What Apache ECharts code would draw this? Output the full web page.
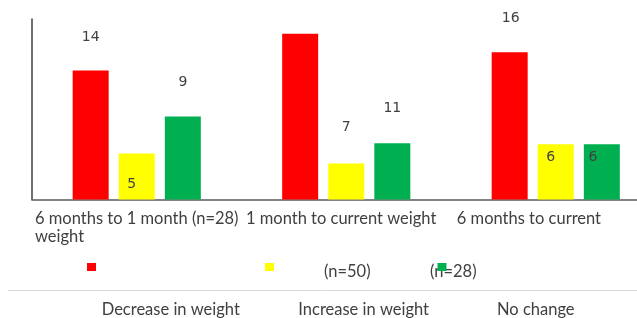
<!DOCTYPE html>
<html>
<head>
<meta charset="utf-8">
<script src="https://cdn.jsdelivr.net/npm/echarts@6/dist/echarts.min.js"></script>
<style>
html, body { margin: 0; padding: 0; background: #fff; }
#main { width: 637px; height: 318px; }
</style>
</head>
<body>
<div id="main"></div>
<script>
// categories (the first label wraps onto a second line in the source picture)
var categories = ['6 months to 1 month (n=28)\nweight', '1 month to current weight', '6 months to current'];
var seriesNames = ['Decrease in weight', 'Increase in weight', 'No change'];

// bar heights
var decreaseValues = [14, 18, 16];
var increaseValues = [5, 3.9, 6];
var noChangeValues = [9, 6.1, 6];

// printed value labels
var decreaseLabels = ['14', '', '16'];
var increaseLabels = ['5', '7', '6'];
var noChangeLabels = ['9', '11', '6'];

var sampleNotes = ['(n=50)', '(n=28)'];

var dom = document.getElementById('main');
var myChart = echarts.init(dom, null, { renderer: 'canvas' });

var txtFont = 'Lato';
var txtSize = 16.5;
var txtColor = '#404040';

// where each printed label sits relative to its bar top
var decreaseShift = [[0, -33], [0, 0], [1, -34]];
var increaseShift = [[-5, 31], [0, -36], [-5, 13]];
var noChangeShift = [[0, -34], [0, -35], [-9, 13]];

function buildData(values, labels, shifts) {
    var out = [];
    for (var i = 0; i < values.length; i++) {
        out.push({
            value: values[i],
            label: { formatter: labels[i], offset: shifts[i] }
        });
    }
    return out;
}

var barLabel = {
    show: true,
    position: 'top',
    distance: 0,
    verticalAlign: 'middle',
    fontFamily: 'DejaVu Sans',
    fontSize: 14,
    lineHeight: 16,
    color: txtColor
};

function iconLegend(name, left) {
    return {
        data: [name],
        left: left,
        top: 263,
        padding: 0,
        icon: 'rect',
        itemWidth: 9,
        itemHeight: 8,
        formatter: function () { return ''; },
        selectedMode: false
    };
}

function textLegend(name, left) {
    return {
        data: [name],
        left: left,
        top: 301,
        padding: 0,
        icon: 'none',
        itemWidth: 0,
        itemHeight: 16,
        selectedMode: false,
        textStyle: { fontFamily: txtFont, fontSize: txtSize, color: txtColor }
    };
}

var option = {
    animation: false,
    color: ['#ff0000', '#ffff00', '#00b050'],
    grid: {
        left: 32, width: 628.5, top: 19, bottom: 118.5,
        containLabel: false,
        outerBoundsMode: 'none'
    },
    legend: [
        iconLegend(seriesNames[0], 87),
        iconLegend(seriesNames[1], 265),
        iconLegend(seriesNames[2], 437.5),
        textLegend(seriesNames[0], 96.7),
        textLegend(seriesNames[1], 293.3),
        textLegend(seriesNames[2], 492)
    ],
    xAxis: [
        {
            type: 'category',
            data: categories,
            position: 'bottom',
            axisLine: { show: true, lineStyle: { color: '#595959', width: 1.5 } },
            axisTick: { show: false },
            axisLabel: { show: false },
            splitLine: { show: false }
        },
        {
            // carries the category texts, left-aligned at each category start
            type: 'value',
            position: 'bottom',
            min: 0,
            max: 2.98,
            interval: 1,
            axisLine: { show: false },
            axisTick: { show: false },
            splitLine: { show: false },
            axisLabel: {
                show: true,
                showMinLabel: true,
                hideOverlap: false,
                align: 'left',
                verticalAlign: 'top',
                margin: 10,
                padding: [0, 0, 0, 3],
                fontFamily: txtFont,
                fontSize: txtSize,
                lineHeight: 18,
                color: txtColor,
                formatter: function (v) {
                    return categories[v] !== undefined ? categories[v] : '';
                }
            }
        }
    ],
    yAxis: {
        type: 'value',
        min: 0,
        max: 19.6,
        axisLine: { show: true, lineStyle: { color: '#404040', width: 1.5 } },
        axisTick: { show: false },
        axisLabel: { show: false },
        splitLine: { show: false }
    },
    graphic: [
        {
            type: 'line',
            shape: { x1: 8, y1: 290.5, x2: 637, y2: 290.5 },
            style: { stroke: '#d9d9d9', lineWidth: 1 }
        },
        {
            type: 'text',
            left: 324,
            top: 263,
            style: { text: sampleNotes[0], font: txtSize + 'px Lato', fill: txtColor }
        },
        {
            type: 'text',
            left: 430,
            top: 263,
            style: { text: sampleNotes[1], font: txtSize + 'px Lato', fill: txtColor }
        }
    ],
    series: [
        {
            name: seriesNames[0],
            type: 'bar',
            xAxisIndex: 0,
            barWidth: 36,
            barGap: '28%',
            label: barLabel,
            data: buildData(decreaseValues, decreaseLabels, decreaseShift)
        },
        {
            name: seriesNames[1],
            type: 'bar',
            xAxisIndex: 0,
            barWidth: 36,
            barGap: '28%',
            label: barLabel,
            data: buildData(increaseValues, increaseLabels, increaseShift)
        },
        {
            name: seriesNames[2],
            type: 'bar',
            xAxisIndex: 0,
            barWidth: 36,
            barGap: '28%',
            label: barLabel,
            data: buildData(noChangeValues, noChangeLabels, noChangeShift)
        }
    ]
};

if (option && typeof option === 'object') {
    myChart.setOption(option, true);
}
</script>
</body>
</html>
